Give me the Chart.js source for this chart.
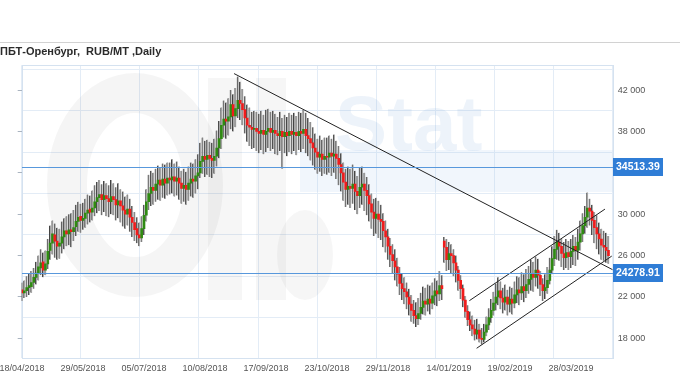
<!DOCTYPE html>
<html>
<head>
<meta charset="utf-8">
<script src="https://cdn.jsdelivr.net/npm/chart.js@4.4.1/dist/chart.umd.min.js"></script>
<style>
html, body { margin: 0; padding: 0; background: #fff; }
#wrap { width: 680px; height: 380px; position: relative; }
</style>
</head>
<body>
<div id="wrap"><canvas id="myChart" width="680" height="380"></canvas></div>
<script>
const titulo = 'ПБТ-Оренбург,  RUB/MT ,Daily';

// date labels sit on every 26th bar
const dateLabels = ['18/04/2018', '29/05/2018', '05/07/2018', '10/08/2018', '17/09/2018',
    '23/10/2018', '29/11/2018', '14/01/2019', '19/02/2019', '28/03/2019'];
const dateIndex = [0, 26, 52, 78, 104, 130, 156, 182, 208, 234];

const yLabelValues = [18000, 22000, 26000, 30000, 34000, 38000, 42000];
const yGridValues = [20000, 24000, 28000, 32000, 36000, 40000, 44000];

const openPrices = [
    22700,22400,22600,22900,23000,23400,23900,24300,24800,25400,24600,25200,26500,27200,28000,27400,26900,27200,27800,28400,28100,28500,28300,28800,29300,29800,
    29400,29600,30100,30500,30200,30600,31200,31600,31900,31400,31800,31500,31200,31700,31400,30900,31300,30800,30400,30000,30500,29700,29200,28600,28000,27700,
    28600,29900,31200,32000,32600,32300,32900,33300,32800,33400,33000,33500,33300,33600,33200,33500,33000,32500,32800,32400,33000,33400,33200,33700,34000,35100,
    35600,35300,35700,35400,35200,35600,36400,37300,38600,39200,39000,39400,40600,39500,40200,41000,40700,40100,39300,38600,38400,38200,38300,38000,37800,38100,
    37700,38000,38300,37900,38100,37800,37600,38000,37500,37900,37600,38000,37700,37900,37600,38000,37800,38200,37600,37300,36900,36400,36000,35500,35800,35300,
    35600,35500,35900,35600,35800,35400,34800,34000,33100,32400,32700,32500,32900,32200,31800,32600,32900,32300,31800,31000,30200,29600,30000,29500,29300,28400,
    27800,26900,26100,25500,24900,24200,23300,22800,22500,22000,21300,20700,20200,19900,20400,21000,21600,21300,21800,21400,22100,22600,22300,23100,27400,26800,
    25600,26200,26000,25300,24600,23600,22800,21700,20600,19800,19300,18900,18400,18800,18000,17900,18600,19300,20000,20700,21400,22000,22600,21900,21500,22000,
    21300,21800,21400,22200,22700,22400,23000,22600,23200,23700,24200,23900,24600,24100,23200,22600,22900,23600,24600,25700,26600,27300,26900,26200,25800,26300,
    25900,26400,26900,26500,27300,28100,28900,29700,30600,30300,29400,28700,28100,27600,27000,26800,26500
];
const highPrices = [
    23400,23600,24000,24300,24500,24800,25400,26000,26600,26300,26500,27600,28900,29400,29100,28700,28600,29300,29600,29800,30000,30100,30400,30900,31200,31000,
    31100,31500,31900,31800,32300,32800,33100,33300,32900,33200,33000,32800,33300,33000,32600,33000,32400,32200,31700,31900,31500,30800,30200,29700,29200,29800,
    30900,32400,33800,34200,34000,34400,34700,34500,34900,34800,35000,35000,35300,34900,35100,34600,34200,34400,34100,34600,35000,34900,35300,35800,36900,37400,
    37100,37200,37000,36900,37300,38100,39000,40300,41000,40800,41200,42000,41600,42200,43300,42800,42100,41400,40600,40300,39900,40000,39900,39700,40000,39600,
    40100,40200,39900,40000,39700,39400,39900,39300,39600,39400,39800,39600,39800,39500,39900,39800,40100,39800,39300,38900,38400,37800,37300,37600,37200,37400,
    37400,37600,37300,37700,37100,36600,35900,35000,34400,34600,34400,34800,34200,33700,34500,34600,34000,33600,32900,32000,31500,31600,31300,30900,30100,29400,
    28600,27700,27100,26600,25800,24900,24300,23900,23400,22800,22200,21700,21500,21900,22400,23000,22900,23200,23100,23400,23800,23600,24500,24100,27800,27600,
    27300,27100,26600,26000,25000,24100,23200,22100,21200,20600,20200,19800,19900,19400,19000,19400,20100,20900,21800,22500,23300,23900,23500,22900,23200,22700,
    23000,22900,23500,24000,23900,24400,24200,24700,25000,25600,25400,25900,25700,24500,23800,24200,24900,25800,26900,27900,28500,28200,27600,27300,27600,27400,
    27600,28000,27800,28600,29400,30100,30800,32100,31500,30900,30200,29900,29200,28600,28400,28200,27900
];
const lowPrices = [
    21600,21900,22000,22200,22400,22800,23200,23600,24100,23900,24100,24700,25600,26100,25800,25600,25700,26200,26600,26900,27000,26800,27400,27900,28300,28200,
    28500,28700,29000,29200,29400,29800,30100,30300,29900,30200,29800,29700,30000,29900,29400,29600,29200,28800,28600,28900,28300,27800,27400,27200,26900,27300,
    28000,29300,30400,30800,30900,31200,31400,31300,31600,31500,31800,31900,32000,31700,31800,31400,31000,31200,30900,31300,31700,31600,32000,32400,33500,33900,
    33600,33800,33600,33500,33900,34600,35400,36300,37400,37300,37600,38200,38000,38400,39300,39100,38600,37800,37000,36600,36300,36400,36100,35900,36200,35800,
    36000,36400,36100,36300,35800,35700,36100,34400,35900,35600,36000,35800,36100,35700,36200,36000,36300,35900,35600,35200,34700,34300,33900,34100,33700,33900,
    33800,34000,33700,34000,33400,32800,32200,31300,30700,30900,30600,31000,30400,30000,30600,30900,30300,29900,29300,28600,27900,28100,27700,27500,26800,26300,
    25600,24900,24300,23600,23000,22200,21700,21300,20800,20200,19600,19400,19100,19300,19800,20300,20200,20600,20300,20800,21200,21100,21600,21700,25300,24500,
    24600,24300,24000,23400,22600,21800,21000,20000,19200,18700,18200,17800,17900,17600,17400,17600,18200,18800,19500,20200,20700,21200,20800,20400,20700,20200,
    20500,20300,20900,21400,21200,21700,21500,21900,22300,22600,22500,23000,22800,22100,21600,21800,22300,23200,24200,25000,25600,25500,24900,24600,24800,24600,
    24800,25100,25000,25600,26500,27300,28100,28700,28900,28000,27200,26600,26100,25600,25500,25300,25200
];
const closePrices = [
    22400,22600,22900,23100,23400,23900,24300,24900,25300,24600,25200,26400,27200,28100,27400,26900,27200,27800,28400,28100,28500,28300,28700,29300,29700,29400,
    29600,30100,30400,30200,30600,31200,31600,31900,31400,31800,31500,31200,31700,31400,30900,31300,30800,30400,30000,30500,29700,29200,28500,28000,27700,28600,
    29900,31200,32000,32600,32300,32900,33300,32800,33400,33000,33500,33300,33600,33200,33500,33000,32500,32800,32400,33000,33400,33200,33700,34000,35100,35600,
    35300,35700,35400,35200,35600,36400,37300,38600,39200,39000,39400,40600,39500,40200,41000,40700,40100,39300,38600,38400,38200,38300,38000,37800,38100,37700,
    38000,38300,37900,38100,37800,37600,38000,37500,37900,37600,38000,37700,37900,37600,38000,37800,38200,37600,37300,36900,36400,36000,35500,35800,35300,35600,
    35500,35900,35600,35800,35400,34800,34000,33100,32400,32700,32500,32900,32200,31800,32600,32900,32300,31800,31000,30200,29600,30000,29500,29300,28400,27800,
    26900,26100,25500,24900,24200,23300,22800,22500,22000,21300,20700,20200,19900,20400,21000,21600,21300,21800,21400,22100,22600,22300,23100,22800,26800,25600,
    26200,26000,25300,24600,23600,22800,21700,20600,19800,19300,18900,18400,18800,18000,17900,18600,19300,20000,20700,21400,22000,22600,21900,21500,22000,21300,
    21800,21400,22200,22700,22400,23000,22600,23200,23700,24200,23900,24600,24100,23200,22600,22900,23600,24600,25700,26600,27300,26900,26200,25800,26300,25900,
    26400,26900,26500,27300,28100,28900,29700,30600,30300,29400,28700,28100,27600,27000,26800,26500,26000
];

// horizontal levels and drawn trend lines (bar index, price)
const niveis = [34513.39, 24278.91];
const linhaQueda = [[90.4, 43590], [251.8, 24630]];
const canalAlto = [[190.7, 21640], [248.5, 30490]];
const canalBaixo = [[193.8, 17040], [251.4, 25950]];

const xMin = -0.13;
const xMax = 251.8;
const yMin = 16100;
const yMax = 44400;

const corGrade = '#e3ecf6';
const corNivel = 'rgb(88,152,220)';

const wicks = highPrices.map((h, i) => ({ x: i, y: [lowPrices[i], h] }));
const corpos = closePrices.map((c, i) => ({ x: i, y: [openPrices[i], c] }));
const coresCorpo = closePrices.map((c, i) => c >= openPrices[i] ? '#2f8a12' : '#f01c1c');

function linha(pts, cor, ordem) {
    return {
        type: 'line',
        data: pts.map(p => ({ x: p[0], y: p[1] })),
        borderColor: cor,
        borderWidth: 1,
        pointRadius: 0,
        fill: false,
        order: ordem
    };
}

const fundo = {
    id: 'fundo',
    beforeDraw(chart) {
        const c = chart.ctx;
        c.save();
        c.fillStyle = '#fff';
        c.fillRect(0, 0, chart.width, chart.height);
        c.fillStyle = '#d2d2d2';
        c.fillRect(0, 42, chart.width, 1);
        c.restore();
    },
    beforeDatasetsDraw(chart) {
        // faint watermark behind the bars
        const a = chart.chartArea;
        const c = chart.ctx;
        c.save();
        c.beginPath();
        c.rect(a.left, a.top, a.right - a.left, a.bottom - a.top);
        c.clip();
        c.strokeStyle = 'rgba(0,0,0,0.04)';
        c.lineWidth = 40;
        c.beginPath();
        c.ellipse(135, 185, 68, 92, 0, 0, Math.PI * 2);
        c.stroke();
        c.fillStyle = 'rgba(0,0,0,0.035)';
        c.fillRect(208, 78, 34, 222);
        c.fillRect(256, 78, 30, 222);
        c.beginPath();
        c.ellipse(305, 255, 28, 45, 0, 0, Math.PI * 2);
        c.fill();
        c.fillStyle = 'rgba(170,200,235,0.16)';
        c.fillRect(300, 150, a.right - 300, 42);
        c.fillStyle = 'rgba(110,160,215,0.12)';
        c.font = 'bold 78px "Liberation Sans"';
        c.textBaseline = 'alphabetic';
        c.fillText('Stat', 335, 150);
        c.restore();
        c.save();
        c.strokeStyle = '#d5e2f0';
        c.lineWidth = 1;
        c.strokeRect(Math.round(a.left) + 0.5, Math.round(a.top) + 0.5, Math.round(a.right - a.left), Math.round(a.bottom - a.top));
        c.restore();
    },
    afterDatasetsDraw(chart) {
        const c = chart.ctx;
        const y = chart.scales.y;
        const a = chart.chartArea;
        c.save();
        // level lines on top of the bars, as solid 1px rows
        niveis.forEach(v => {
            const py = Math.round(y.getPixelForValue(v));
            c.fillStyle = corNivel;
            c.fillRect(Math.round(a.left), py, Math.round(a.right - a.left), 1);
            c.fillStyle = '#2f7dd6';
            c.fillRect(Math.round(a.right), py - 9, 50, 18);
            c.fillStyle = '#fff';
            c.font = 'bold 10.5px "Liberation Sans"';
            c.textBaseline = 'middle';
            c.textAlign = 'left';
            c.fillText(v.toFixed(2), Math.round(a.right) + 3, py + 0.5);
        });
        c.restore();
    }
};

const ctx = document.getElementById('myChart');

const chart = new Chart(ctx, {
    type: 'bar',
    plugins: [fundo],
    data: {
        datasets: [
            linha(linhaQueda, '#222', 0),
            linha(canalAlto, '#222', 0),
            linha(canalBaixo, '#222', 0),
            {
                type: 'bar',
                data: corpos,
                backgroundColor: coresCorpo,
                barThickness: 2,
                grouped: false,
                order: 1
            },
            {
                type: 'bar',
                data: wicks,
                backgroundColor: '#a8a8a8',
                borderColor: '#2a2a2a',
                borderWidth: { left: 1, right: 0, top: 0, bottom: 0 },
                borderSkipped: false,
                barThickness: 1.6,
                grouped: false,
                order: 2
            }
        ]
    },
    options: {
        responsive: false,
        devicePixelRatio: 1,
        animation: false,
        layout: { padding: 0 },
        plugins: {
            legend: { display: false },
            tooltip: { enabled: false },
            title: {
                display: true,
                text: titulo,
                align: 'start',
                color: '#2b2b2b',
                font: { family: 'Liberation Sans', size: 11, weight: 'bold' },
                padding: { top: 45, bottom: 7 }
            }
        },
        scales: {
            x: {
                type: 'linear',
                offset: false,
                min: xMin,
                max: xMax,
                position: 'bottom',
                grid: { display: false, drawTicks: false, offset: false },
                border: { display: false },
                afterBuildTicks: s => { s.ticks = dateIndex.map(v => ({ value: v })); },
                afterFit: s => { s.height = 22; s.paddingLeft = 0; s.paddingRight = 0; },
                ticks: {
                    autoSkip: false,
                    maxRotation: 0,
                    padding: 5,
                    color: '#555',
                    font: { family: 'Liberation Sans', size: 9 },
                    callback: v => dateLabels[dateIndex.indexOf(v)] || ''
                }
            },
            xg: {
                type: 'linear',
                offset: false,
                min: 0,
                max: 10,
                position: 'bottom',
                ticks: { display: false, stepSize: 1 },
                grid: { color: corGrade, drawTicks: false, offset: false },
                border: { display: false },
                afterFit: s => { s.height = 0; s.paddingLeft = 0; s.paddingRight = 0; }
            },
            y: {
                position: 'right',
                min: yMin,
                max: yMax,
                afterBuildTicks: s => {
                    s.ticks = yLabelValues.concat(yGridValues).sort((a, b) => a - b).map(v => ({ value: v }));
                },
                afterFit: s => { s.width = 67.3; s.paddingTop = 0; s.paddingBottom = 0; },
                grid: {
                    drawTicks: false,
                    color: c => (c.tick && yGridValues.includes(c.tick.value)) ? corGrade : 'rgba(0,0,0,0)'
                },
                border: { display: false },
                ticks: {
                    padding: 5,
                    color: '#555',
                    font: { family: 'Liberation Sans', size: 9 },
                    callback: v => yLabelValues.includes(v) ? (v / 1000) + ' 000' : ''
                }
            },
            yl: {
                position: 'left',
                min: yMin,
                max: yMax,
                afterBuildTicks: s => { s.ticks = yLabelValues.map(v => ({ value: v })); },
                afterFit: s => { s.width = 21.7; s.paddingTop = 0; s.paddingBottom = 0; },
                grid: { drawOnChartArea: false, drawTicks: true, tickLength: 4, tickColor: '#aab4c0' },
                border: { display: false },
                ticks: { display: false }
            }
        }
    }
});
</script>
</body>
</html>
